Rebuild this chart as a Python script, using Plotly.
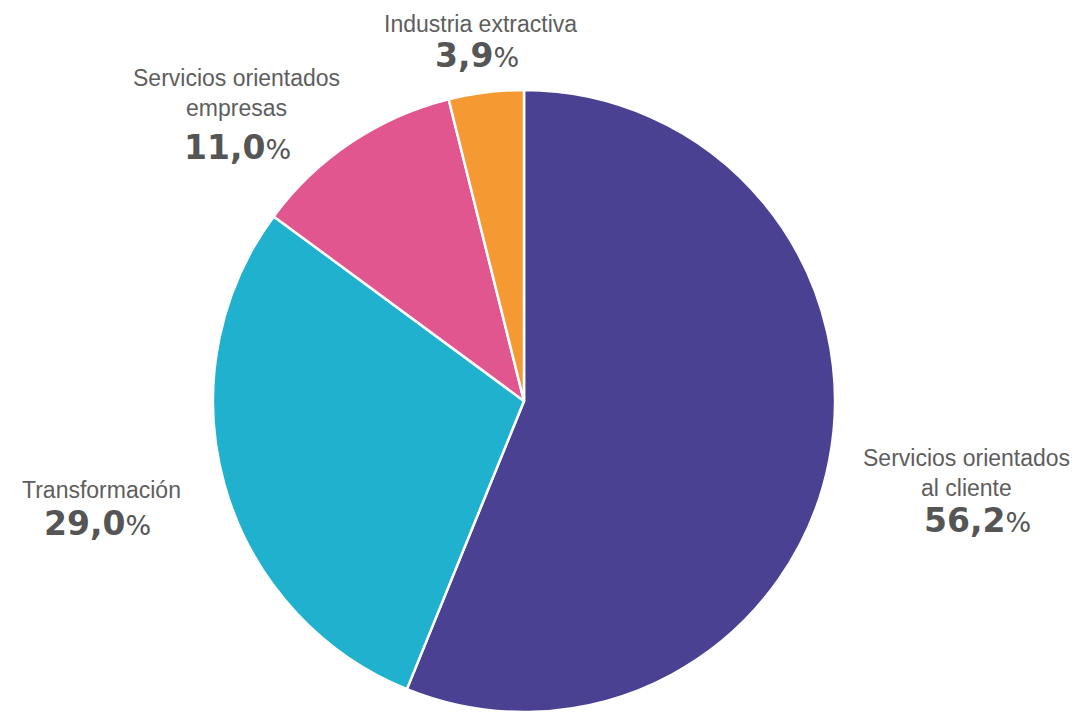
import plotly.graph_objects as go

W, H = 1079, 712
OFF = 8  # page body margin offset

categories = ["Servicios orientados al cliente", "Transformación",
              "Servicios orientados empresas", "Industria extractiva"]
values = [56.2, 29.0, 11.0, 3.9]
label_lines = [["Servicios orientados", "al cliente"], ["Transformación"],
               ["Servicios orientados", "empresas"], ["Industria extractiva"]]
pct_labels = ["56,2", "29,0", "11,0", "3,9"]
colors = ["#4b4192", "#20b1cf", "#e2568f", "#f59a32"]

# pixel anchors for labels (center x, top line center y, pct center y)
label_pos = [(966, 458, 520), (101, 490, 523), (236, 78, 147), (480, 24, 55)]
pct_x = [977, 97, 237, 477]


def px(x):
    return (x - OFF) / W


def py(y):
    return 1 - (y - OFF) / H


cx, cy, r = 524, 401, 311
fig = go.Figure(go.Pie(
    labels=categories, values=values, sort=False, direction="clockwise",
    rotation=0, textinfo="none", hoverinfo="label+percent",
    marker=dict(colors=colors, line=dict(color="white", width=2.5)),
    domain=dict(x=[px(cx - r), px(cx + r)], y=[py(cy + r), py(cy - r)]),
    showlegend=False,
))

annotations = []
for lines, pct, (x, y1, yp), xp in zip(label_lines, pct_labels, label_pos, pct_x):
    for i, line in enumerate(lines):
        annotations.append(dict(
            x=px(x), y=py(y1 + i * 30), xref="paper", yref="paper",
            text=line, showarrow=False, xanchor="center", yanchor="middle",
            font=dict(family="Liberation Sans, Arial", size=23, color="#5e5e5e")))
    annotations.append(dict(
        x=px(xp), y=py(yp), xref="paper", yref="paper",
        text=f"<b>{pct}</b><span style='font-size:27px'>%</span>", showarrow=False,
        xanchor="center", yanchor="middle",
        font=dict(family="DejaVu Sans, sans-serif", size=33, color="#555555")))

fig.update_layout(width=W, height=H, margin=dict(l=0, r=0, t=0, b=0),
                  paper_bgcolor="white", plot_bgcolor="white",
                  annotations=annotations)
fig.write_html("out.html")
